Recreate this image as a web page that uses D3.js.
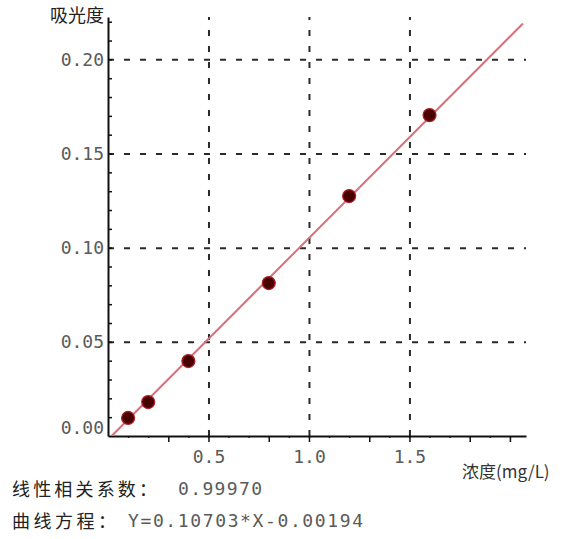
<!DOCTYPE html>
<html>
<head>
<meta charset="utf-8">
<script src="https://cdn.jsdelivr.net/npm/d3@7"></script>
<style>
  html, body { margin: 0; padding: 0; background: #fff; }
  svg { display: block; }
</style>
</head>
<body>
<svg id="chart" width="582" height="539"></svg>
<script>
// Standard curve: concentration (mg/L) vs absorbance
const concentrations = [0.1, 0.2, 0.4, 0.8, 1.2, 1.6];
const absorbances    = [0.0096, 0.0180, 0.0398, 0.0812, 0.1274, 0.1704];

// Fitted line Y = slope * X + intercept, drawn over this concentration span
const slope = 0.10703;
const intercept = -0.00194;
const fitSpan = [0.018, 2.065];
const correlation = "0.99970";

// Axis ticks
const xTickLabels = [0.5, 1.0, 1.5];
const xMidTicks = [0.3, 0.5, 0.8, 1.0, 1.3, 1.5, 1.8, 2.0];
const xMinorTicks = d3.range(1, 21).map(i => i / 10);
const yTickLabels = [0.00, 0.05, 0.10, 0.15, 0.20];
const yMinorTicks = d3.range(1, 23).map(i => i / 100);

const xDomain = [0, 2.08];
const yDomain = [0, 0.2225];

const svg = d3.select("#chart");
const margin = { left: 108, top: 17, right: 56, bottom: 103 };
const W = 582 - margin.left - margin.right;
const H = 539 - margin.top - margin.bottom;

const x = d3.scaleLinear().domain(xDomain).range([0, W]);
const y = d3.scaleLinear().domain(yDomain).range([H, 0]);

const g = svg.append("g").attr("transform", `translate(${margin.left},${margin.top})`);

const labelFont = "'DejaVu Sans Mono', monospace";
const cjkFont = "'Noto Sans CJK SC', sans-serif";

// Dashed grid
const gridStyle = sel => {
  sel.select(".domain").remove();
  sel.selectAll(".tick line")
    .attr("stroke", "#2a2a2a")
    .attr("stroke-width", 2)
    .attr("stroke-dasharray", "6,10");
};
g.append("g")
  .call(d3.axisLeft(y).tickValues(yTickLabels.filter(v => v > 0)).tickSize(-W).tickFormat(""))
  .call(gridStyle);
g.append("g")
  .attr("transform", `translate(0,${H})`)
  .call(d3.axisBottom(x).tickValues(xTickLabels).tickSize(-H).tickFormat(""))
  .call(gridStyle);

// Y minor ticks, pointing into the plot
g.append("g")
  .call(d3.axisRight(y).tickValues(yMinorTicks).tickSize(4).tickFormat(""))
  .call(s => s.select(".domain").remove())
  .call(s => s.selectAll(".tick line").attr("stroke", "#111").attr("stroke-width", 1.5));

// X ticks below the axis
g.append("g")
  .attr("transform", `translate(0,${H})`)
  .call(d3.axisBottom(x).tickValues(xMinorTicks).tickSize(2).tickFormat(""))
  .call(s => s.select(".domain").remove())
  .call(s => s.selectAll(".tick line").attr("stroke", "#333").attr("stroke-width", 1.5));
g.append("g")
  .attr("transform", `translate(0,${H})`)
  .call(d3.axisBottom(x).tickValues(xMidTicks).tickSize(6).tickFormat(""))
  .call(s => s.select(".domain").remove())
  .call(s => s.selectAll(".tick line").attr("stroke", "#111").attr("stroke-width", 1.5));

// Y axis with labels
const yAxis = g.append("g")
  .call(d3.axisLeft(y).tickValues(yTickLabels).tickSize(0).tickSizeOuter(0).tickPadding(4)
    .tickFormat(d3.format(".2f")));
yAxis.select(".domain").attr("stroke", "#111").attr("stroke-width", 2);
yAxis.selectAll(".tick text")
  .attr("font-family", labelFont).attr("font-size", 18).attr("fill", "#5a5a5a")
  .attr("dy", d => d === 0 ? "-0.12em" : "0.32em");

// X axis with labels
const xAxis = g.append("g")
  .attr("transform", `translate(0,${H})`)
  .call(d3.axisBottom(x).tickValues(xTickLabels).tickSize(0).tickSizeOuter(0).tickPadding(14)
    .tickFormat(d3.format(".1f")));
xAxis.select(".domain").attr("stroke", "#111").attr("stroke-width", 2);
xAxis.selectAll(".tick text")
  .attr("font-family", labelFont).attr("font-size", 18).attr("fill", "#5a5a5a");

// Fitted line
svg.append("clipPath").attr("id", "plotclip")
  .append("rect").attr("x", 0).attr("y", -10).attr("width", W + 10).attr("height", H + 10);
const fitLine = d3.line().x(d => x(d)).y(d => y(slope * d + intercept));
g.append("path")
  .datum(fitSpan)
  .attr("d", fitLine)
  .attr("fill", "none")
  .attr("stroke", "#d9707c")
  .attr("stroke-width", 2)
  .attr("clip-path", "url(#plotclip)");

// Measured standards
g.selectAll("circle.pt")
  .data(concentrations.map((c, i) => ({ c, a: absorbances[i] })))
  .join("circle")
  .attr("class", "pt")
  .attr("cx", d => x(d.c))
  .attr("cy", d => y(d.a))
  .attr("r", 6.5)
  .attr("fill", "#4a0000")
  .attr("stroke", "#b0202a")
  .attr("stroke-width", 1.2);

// Axis titles
svg.append("text")
  .attr("x", 104).attr("y", 22)
  .attr("text-anchor", "end")
  .attr("font-family", cjkFont).attr("font-size", 18).attr("fill", "#222")
  .text("吸光度");
svg.append("text")
  .attr("x", 462).attr("y", 478)
  .attr("font-family", cjkFont).attr("font-size", 17).attr("fill", "#333")
  .text("浓度(mg/L)");

// Fit summary
const info = svg.append("g");
info.append("text")
  .attr("x", 12).attr("y", 496)
  .attr("font-family", cjkFont).attr("font-size", 18).attr("fill", "#222")
  .attr("textLength", 145).attr("lengthAdjust", "spacing")
  .text("线性相关系数：");
info.append("text")
  .attr("x", 178).attr("y", 495)
  .attr("font-family", labelFont).attr("font-size", 18).attr("fill", "#5a5a5a")
  .attr("textLength", 84).attr("lengthAdjust", "spacing")
  .text(correlation);
info.append("text")
  .attr("x", 12).attr("y", 528)
  .attr("font-family", cjkFont).attr("font-size", 18).attr("fill", "#222")
  .attr("textLength", 104).attr("lengthAdjust", "spacing")
  .text("曲线方程：");
info.append("text")
  .attr("x", 128).attr("y", 527)
  .attr("font-family", labelFont).attr("font-size", 18).attr("fill", "#5a5a5a")
  .attr("textLength", 235).attr("lengthAdjust", "spacing")
  .text(`Y=${slope.toFixed(5)}*X${intercept < 0 ? "-" : "+"}${Math.abs(intercept).toFixed(5)}`);
</script>
</body>
</html>
